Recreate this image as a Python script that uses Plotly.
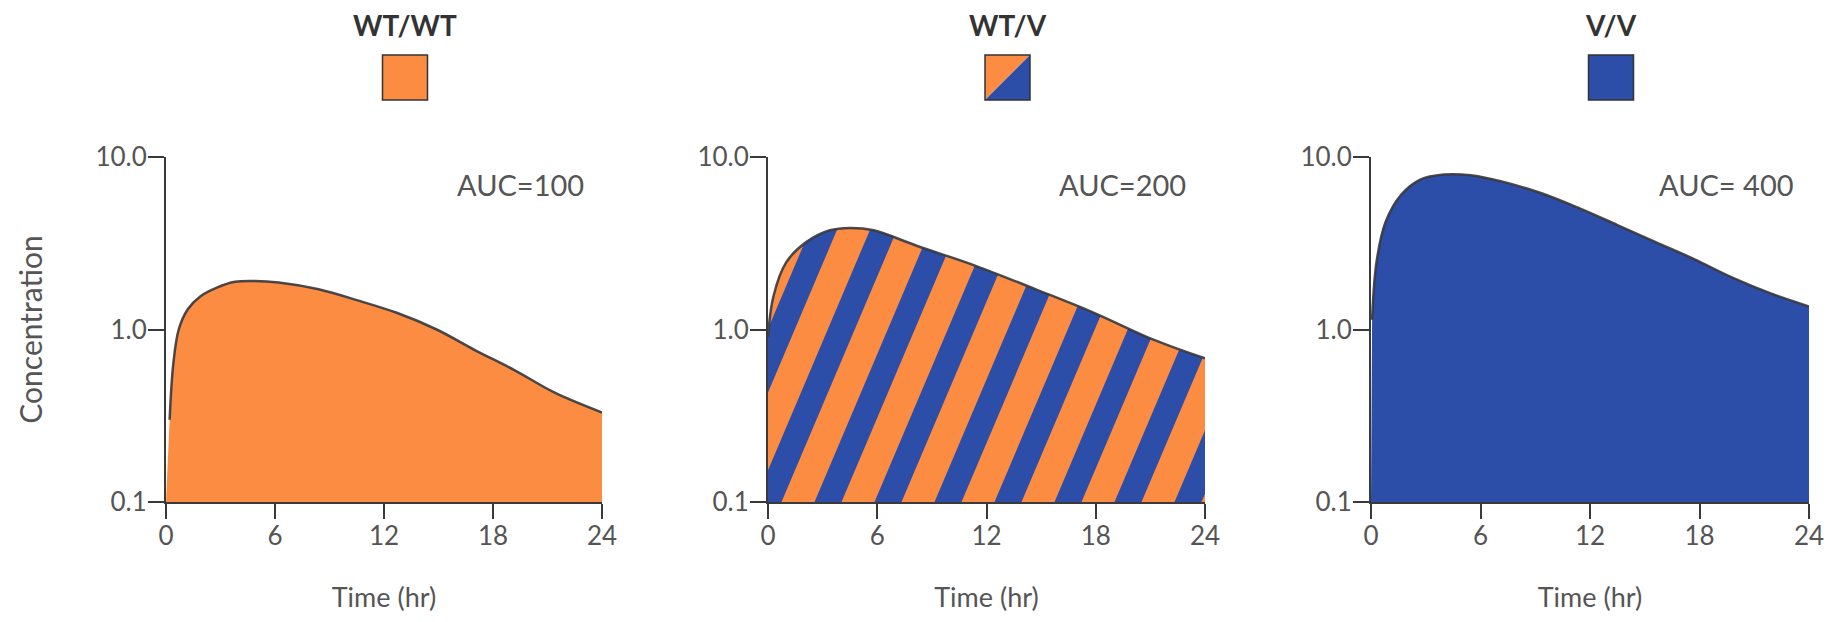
import numpy as np
import plotly.graph_objects as go

# ---------------- data ----------------
genotypes = ["WT/WT", "WT/V", "V/V"]
auc_labels = ["AUC=100", "AUC=200", "AUC= 400"]

t_wtwt = [0.2, 0.4, 0.7, 1.2, 1.9, 2.8, 3.8, 4.9, 6.2, 8.4, 10.5, 12.7, 14.9, 17.0, 19.2, 21.4, 24.0]
c_wtwt = [0.30, 0.63, 1.00, 1.31, 1.56, 1.75, 1.89, 1.91, 1.87, 1.71, 1.48, 1.25, 1.00, 0.76, 0.58, 0.43, 0.33]

t_wtv = [0.0, 0.3, 1.0, 2.1, 3.4, 4.5, 5.8, 8.2, 11.4, 14.7, 17.9, 21.2, 24.0]
c_wtv = [0.91, 1.56, 2.45, 3.21, 3.76, 3.88, 3.76, 3.05, 2.34, 1.71, 1.25, 0.87, 0.68]

t_vv = [0.06, 0.3, 0.8, 1.65, 2.7, 4.0, 5.45, 7.15, 9.3, 11.4, 13.5, 15.6, 17.7, 19.8, 21.9, 24.0]
c_vv = [1.14, 2.45, 4.20, 6.04, 7.40, 7.91, 7.84, 7.22, 6.18, 5.05, 4.03, 3.21, 2.56, 2.00, 1.62, 1.36]

x_ticks = [0, 6, 12, 18, 24]
x_ticklabels = ["0", "6", "12", "18", "24"]
y_ticks = [0.1, 1.0, 10.0]
y_ticklabels = ["0.1", "1.0", "10.0"]

# ---------------- style ----------------
W, H = 1837, 622
ORANGE = "#FB8C42"
BLUE = "#2D4EA8"
OUTLINE = "rgba(55,55,60,0.9)"
AXIS = "#3a3a3a"
TXT = "#555555"
FONT = "Lato, 'Open Sans', sans-serif"

panel_px = [(158, 594), (760, 1197), (1363, 1801)]
y_top_px, y_bot_px = 149, 494

fig = go.Figure()


def add_area(xref, yref, t, c, color):
    fig.add_trace(go.Scatter(x=[0, 24], y=[0.1, 0.1], mode="lines", line=dict(width=0),
                             xaxis=xref, yaxis=yref, hoverinfo="skip", showlegend=False))
    fig.add_trace(go.Scatter(x=t, y=c, mode="lines", line=dict(width=0, shape="spline"),
                             fill="tonexty", fillcolor=color,
                             xaxis=xref, yaxis=yref, showlegend=False))


def add_outline(xref, yref, t, c, mask=False):
    if mask:
        fig.add_trace(go.Scatter(x=[0, 24], y=[10, 10], mode="lines", line=dict(width=0),
                                 xaxis=xref, yaxis=yref, hoverinfo="skip", showlegend=False))
        fig.add_trace(go.Scatter(x=t, y=c, mode="lines",
                                 line=dict(width=2.5, color=OUTLINE, shape="spline"),
                                 fill="tonexty", fillcolor="white",
                                 xaxis=xref, yaxis=yref, showlegend=False))
    else:
        fig.add_trace(go.Scatter(x=t, y=c, mode="lines",
                                 line=dict(width=2.5, color=OUTLINE, shape="spline"),
                                 xaxis=xref, yaxis=yref, showlegend=False))


add_area("x", "y", t_wtwt, c_wtwt, ORANGE)
add_outline("x", "y", t_wtwt, c_wtwt)

# WT/V: orange area with blue diagonal stripes (decorative pattern)
add_area("x2", "y2", t_wtv, c_wtv, ORANGE)
pw = panel_px[1][1] - panel_px[1][0]
ph = y_bot_px - y_top_px
period = 60 / pw * 24.0                 # horizontal stripe period (hours)
bw = 0.45 * period                      # blue stripe width (hours)
shift = (ph / np.tan(np.radians(67))) / pw * 24.0   # lean over the full height
sx, sy = [], []
for k in range(-4, 11):
    x0 = k * period - bw / 2
    sx += [x0, x0 + bw, x0 + bw + shift, x0 + shift, x0, None]
    sy += [0.1, 0.1, 10, 10, 0.1, None]
fig.add_trace(go.Scatter(x=sx, y=sy, mode="lines", line=dict(width=0), fill="toself",
                         fillcolor=BLUE, xaxis="x2", yaxis="y2", hoverinfo="skip",
                         showlegend=False))
add_outline("x2", "y2", t_wtv, c_wtv, mask=True)

add_area("x3", "y3", t_vv, c_vv, BLUE)
add_outline("x3", "y3", t_vv, c_vv)

axis_common = dict(showline=True, linecolor=AXIS, linewidth=2, ticks="outside",
                   tickcolor=AXIS, tickwidth=2, showgrid=False, zeroline=False,
                   automargin=False, tickfont=dict(family=FONT, size=26, color=TXT))
layout = dict(width=W, height=H, margin=dict(l=0, r=0, t=0, b=0),
              paper_bgcolor="white", plot_bgcolor="white", showlegend=False,
              font=dict(family=FONT, color=TXT))
for i, (x0, x1) in enumerate(panel_px):
    sfx = "" if i == 0 else str(i + 1)
    layout["xaxis" + sfx] = dict(axis_common, domain=[x0 / W, x1 / W], range=[0, 24],
                                 tickvals=x_ticks, ticktext=x_ticklabels, ticklen=15,
                                 ticklabelstandoff=-5, anchor="y" + sfx,
                                 title=dict(text="Time (hr)", font=dict(family=FONT, size=27, color=TXT),
                                            standoff=38))
    layout["yaxis" + sfx] = dict(axis_common, domain=[1 - y_bot_px / H, 1 - y_top_px / H],
                                 type="log", range=[-1, 1], tickvals=y_ticks,
                                 ticktext=y_ticklabels, ticklen=16, ticklabelstandoff=-4,
                                 anchor="x" + sfx)
layout["yaxis"]["title"] = dict(text="Concentration", font=dict(family=FONT, size=30, color=TXT),
                                standoff=44)
fig.update_layout(**layout)

sq = 45
for i, (x0, x1) in enumerate(panel_px):
    sfx = "" if i == 0 else str(i + 1)
    fig.add_annotation(xref=("x" + sfx) + " domain", yref="paper", x=0.812, y=1 - 177 / H,
                       xanchor="center", yanchor="middle",
                       text=auc_labels[i], showarrow=False,
                       font=dict(family=FONT, size=29, color=TXT))
    cx = (x0 + x1) / 2 + 21
    fig.add_annotation(xref="paper", yref="paper", x=cx / W, y=1 - 17 / H,
                       xanchor="center", yanchor="middle",
                       text="<b>" + genotypes[i] + "</b>", showarrow=False,
                       font=dict(family=FONT, size=28, color="#333333"))
    l, r = (cx - sq / 2) / W, (cx + sq / 2) / W
    b, t = 1 - 92 / H, 1 - 47 / H
    if i == 1:
        fig.add_shape(type="path", xref="paper", yref="paper",
                      path=f"M {l} {b} L {l} {t} L {r} {t} Z", fillcolor=ORANGE,
                      line=dict(width=0))
        fig.add_shape(type="path", xref="paper", yref="paper",
                      path=f"M {l} {b} L {r} {t} L {r} {b} Z", fillcolor=BLUE,
                      line=dict(width=0))
        fig.add_shape(type="rect", xref="paper", yref="paper", x0=l, x1=r, y0=b, y1=t,
                      line=dict(color="#333333", width=1.5))
    else:
        fig.add_shape(type="rect", xref="paper", yref="paper", x0=l, x1=r, y0=b, y1=t,
                      fillcolor=ORANGE if i == 0 else BLUE,
                      line=dict(color="#333333", width=1.5))

fig.write_html("out.html")
